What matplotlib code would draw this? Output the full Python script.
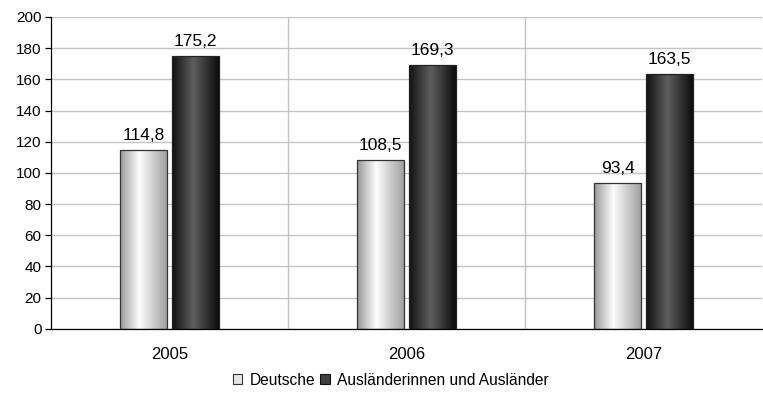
import matplotlib.pyplot as plt
import numpy as np
from matplotlib.patches import Patch

plt.rcParams["font.family"] = ["Liberation Sans", "DejaVu Sans"]

years = ["2005", "2006", "2007"]
deutsche = [114.8, 108.5, 93.4]
auslaender = [175.2, 169.3, 163.5]
series_names = ["Deutsche", "Ausländerinnen und Ausländer"]


def shade(ax, bars, stops, levels):
    # horizontal gradient inside each bar, clipped to the bar outline
    ramp = np.interp(np.linspace(0, 1, 64), stops, levels)
    img = np.tile(ramp, (2, 1))
    for b in bars:
        x0, y0 = b.get_x(), b.get_y()
        im = ax.imshow(img, cmap="gray", vmin=0, vmax=1, aspect="auto",
                       extent=[x0, x0 + b.get_width(), y0, y0 + b.get_height()],
                       interpolation="bilinear", zorder=2)
        im.set_clip_path(b)


fig, ax = plt.subplots(figsize=(7.63, 4.03), dpi=100)
fig.subplots_adjust(left=0.067, right=0.999, top=0.958, bottom=0.184)

x = np.arange(len(years))
w = 0.2
b1 = ax.bar(x - 0.11, deutsche, w, facecolor="none", edgecolor="#333333",
            linewidth=0.9, zorder=3)
b2 = ax.bar(x + 0.11, auslaender, w, facecolor="none", edgecolor="#222222",
            linewidth=0.9, zorder=3)
shade(ax, b1, [0, 0.4, 1], [0.6, 0.99, 0.62])
shade(ax, b2, [0, 0.45, 1], [0.07, 0.37, 0.04])

for bars, vals in [(b1, deutsche), (b2, auslaender)]:
    for b, v in zip(bars, vals):
        ax.text(b.get_x() + b.get_width() / 2, v + 4.5,
                f"{v:.1f}".replace(".", ","), ha="center", va="bottom",
                fontsize=12.5, zorder=4)

ax.set_xlim(-0.5, 2.5)
ax.set_ylim(0, 200)
ax.set_yticks(np.arange(0, 201, 20))
ax.set_xticks(x)
ax.set_xticklabels(years)
ax.tick_params(axis="x", length=0, pad=13, labelsize=12)
ax.tick_params(axis="y", length=4, width=0.9, labelsize=11, pad=3)

ax.grid(axis="y", color="#c4c4c4", linewidth=1, zorder=0)
for xb in [0.5, 1.5]:
    ax.axvline(xb, color="#c4c4c4", linewidth=1, zorder=0)
ax.set_axisbelow(True)

for side in ["top", "right"]:
    ax.spines[side].set_visible(False)
ax.spines["left"].set_linewidth(0.9)
ax.spines["bottom"].set_linewidth(0.9)

handles = [Patch(facecolor="#e6e6e6", edgecolor="#333333", linewidth=0.8),
           Patch(facecolor="#404040", edgecolor="#111111", linewidth=0.8)]
fig.legend(handles, series_names, loc="center", bbox_to_anchor=(0.512, 0.057),
           ncol=2, frameon=False, fontsize=11.2, handlelength=0.6,
           handleheight=0.6, handletextpad=0.45, columnspacing=0.35)

fig.savefig("out.png", dpi=100)
